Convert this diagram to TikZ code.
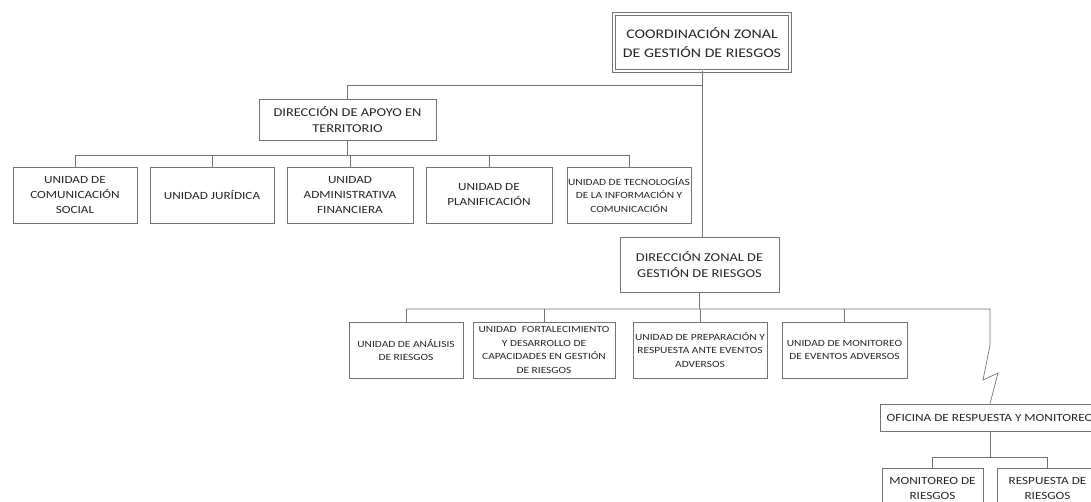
\documentclass[tikz,border=0pt]{standalone}
\usepackage{fontspec}
\setmainfont{Carlito}[FakeStretch=1.2]
\usetikzlibrary{positioning}

\begin{document}
\begin{tikzpicture}[x=1pt, y=-1pt,
  box/.style 2 args={rectangle, draw=black!55, line width=0.7pt, align=center, text=black!85,
    minimum width=#1, minimum height=#2, inner sep=1pt},
  topbox/.style={box={176pt}{57pt}, double=white, double distance=2pt, line width=0.6pt,
    font=\fontsize{13.2}{19}\selectfont},
  dirbox/.style={font=\fontsize{12}{16}\selectfont},
  unitbox/.style={font=\fontsize{11}{15}\selectfont},
  smallbox/.style={font=\fontsize{9.5}{13.5}\selectfont},
  line/.style={draw=black!55, line width=0.7pt}]

  \useasboundingbox (0,0) rectangle (1091,501);
  \clip (0,0) rectangle (1091,501);

  %% top
  \node[topbox] (coord) at (702,42.5) {COORDINACIÓN ZONAL\\DE GESTIÓN DE RIESGOS};

  %% support direction and its units
  \node[box={177pt}{41pt}, dirbox] (apoyo) at (347.5,119.5) {DIRECCIÓN DE APOYO EN\\TERRITORIO};

  \node[box={124pt}{56pt}, unitbox] (u1) at (75,195) {UNIDAD DE\\COMUNICACIÓN\\SOCIAL};
  \node[box={124pt}{56pt}, unitbox] (u2) at (212,195) {UNIDAD JURÍDICA};
  \node[box={126pt}{56pt}, unitbox] (u3) at (350,195) {UNIDAD\\ADMINISTRATIVA\\FINANCIERA};
  \node[box={126pt}{56pt}, unitbox] (u4) at (489,195) {UNIDAD DE\\PLANIFICACIÓN};
  \node[box={124pt}{56pt}, smallbox] (u5) at (629,195) {UNIDAD DE TECNOLOGÍAS\\DE LA INFORMACIÓN Y\\COMUNICACIÓN};

  %% zonal direction and its units
  \node[box={159pt}{55pt}, dirbox] (dzonal) at (699.5,264.5) {DIRECCIÓN ZONAL DE\\GESTIÓN DE RIESGOS};

  \node[box={114pt}{56pt}, smallbox] (v1) at (406,350) {UNIDAD DE ANÁLISIS\\DE RIESGOS};
  \node[box={142pt}{56pt}, smallbox] (v2) at (544,350)
    {UNIDAD \ FORTALECIMIENTO\\Y DESARROLLO DE\\CAPACIDADES EN GESTIÓN\\DE RIESGOS};
  \node[box={134pt}{56pt}, smallbox] (v3) at (700,350) {UNIDAD DE PREPARACIÓN Y\\RESPUESTA ANTE EVENTOS\\ADVERSOS};
  \node[box={125pt}{56pt}, smallbox] (v4) at (844.5,350) {UNIDAD DE MONITOREO\\DE EVENTOS ADVERSOS};

  %% office
  \node[box={220pt}{27pt}, unitbox] (ofi) at (990,417.5) {OFICINA DE RESPUESTA Y MONITOREO};
  \node[box={101pt}{40pt}, unitbox] (m1) at (932.5,488) {MONITOREO DE\\RIESGOS};
  \node[box={101pt}{40pt}, unitbox] (m2) at (1047.5,488) {RESPUESTA DE\\RIESGOS};

  %% bars
  \coordinate (b1) at (0,85);
  \coordinate (b2) at (0,155);
  \coordinate (b3) at (0,309);
  \coordinate (b4) at (0,457);

  %% connectors
  \draw[line] (coord.south) -- (coord.south |- dzonal.north);
  \draw[line] (apoyo.north) |- (b1 -| coord.south);

  \draw[line] (apoyo.south) -- (apoyo.south |- b2);
  \draw[line] (u1.north |- b2) -- (u5.north |- b2);
  \foreach \i in {1,...,5}
    \draw[line] (u\i.north) -- (u\i.north |- b2);

  \draw[line] (dzonal.south) -- (dzonal.south |- b3);
  \foreach \i in {1,...,4}
    \draw[line] (v\i.north) -- (v\i.north |- b3);
  \draw[line] (v1.north |- b3) -- (b3 -| ofi.north) -- ++(0,36) -- ++(-7,35) -- ++(15,-7) -- (ofi.north);

  \draw[line] (ofi.south) -- (ofi.south |- b4);
  \draw[line] (m1.north |- b4) -- (m2.north |- b4);
  \foreach \i in {1,2}
    \draw[line] (m\i.north) -- (m\i.north |- b4);

\end{tikzpicture}
\end{document}
